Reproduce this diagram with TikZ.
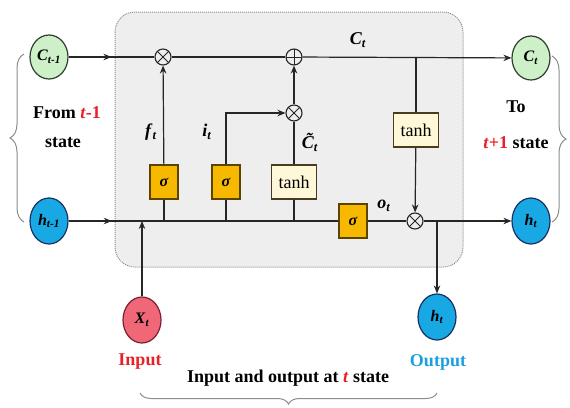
\documentclass[tikz,border=0pt]{standalone}
\usepackage{fontspec}
\setmainfont{Liberation Serif}
\usetikzlibrary{decorations.pathreplacing,decorations.markings,arrows.meta,shapes.geometric,calc}
\definecolor{cgreen}{HTML}{CDF0C8}
\definecolor{cborder}{HTML}{2E3E2E}
\definecolor{hblue}{HTML}{18A8E4}
\definecolor{hborder}{HTML}{1A3060}
\definecolor{xpink}{HTML}{F06878}
\definecolor{xborder}{HTML}{7A2030}
\definecolor{sigfill}{HTML}{F7B800}
\definecolor{sigborder}{HTML}{5A4400}
\definecolor{tanhfill}{HTML}{FFF8D8}
\definecolor{tanhborder}{HTML}{4A3A20}
\definecolor{boxgray}{HTML}{EEEEEE}
\definecolor{tred}{HTML}{E82028}
\definecolor{tblue}{HTML}{1A9FDF}
\newcommand{\lbl}[2]{\textbf{\textit{#1}}\textsubscript{\textbf{\textit{#2}}}}
\newcommand{\tildeC}{\textbf{\textit{\accent"02DC C}}}
\begin{document}
\begin{tikzpicture}[x=1pt,y=-1pt,
  font=\fontsize{18}{21}\selectfont\bfseries,
  >={Stealth[length=8pt,width=6.5pt]},
  line/.style={draw=black!85, line width=1.2pt},
  midarrow/.style={postaction={decorate},decoration={markings,mark=at position #1 with {\arrow{>}}}},
  cstate/.style={ellipse, draw=cborder, fill=cgreen, line width=1.2pt, minimum width=38pt, minimum height=44pt, inner sep=0pt, font=\fontsize{16}{18}\selectfont},
  hstate/.style={ellipse, draw=hborder, fill=hblue, line width=1.2pt, minimum width=38pt, minimum height=46pt, inner sep=0pt, font=\fontsize{16}{18}\selectfont},
  xstate/.style={ellipse, draw=xborder, fill=xpink, line width=1.2pt, minimum width=38pt, minimum height=46pt, inner sep=0pt, font=\fontsize{16}{18}\selectfont},
  sigbox/.style={rectangle, draw=sigborder, fill=sigfill, line width=1.2pt, minimum width=28pt, minimum height=34pt, inner sep=0pt, font=\fontsize{16}{18}\selectfont\bfseries\itshape},
  tanhbox/.style={rectangle, draw=tanhborder, fill=tanhfill, line width=1.2pt, minimum width=45pt, minimum height=34pt, inner sep=0pt, font=\fontsize{18}{20}\selectfont\mdseries},
  mult/.style={circle, draw=black!85, fill=boxgray, line width=1.1pt, minimum size=16pt, inner sep=0pt,
    path picture={\draw[line width=1pt] (path picture bounding box.center) +(45:8pt) -- +(225:8pt) +(135:8pt) -- +(-45:8pt);}},
  addop/.style={circle, draw=black!85, fill=boxgray, line width=1.1pt, minimum size=16pt, inner sep=0pt,
    path picture={\draw[line width=1pt] (path picture bounding box.center) +(0:8pt) -- +(180:8pt) +(90:8pt) -- +(-90:8pt);}},
  bracestyle/.style={draw=black!45, line width=1pt, decorate},
]
\useasboundingbox (0,0) rectangle (570,407);
% main cell box
\path[rounded corners=20pt, fill=boxgray, draw=black!45, line width=1pt, dash pattern=on 1pt off 1pt] (115,12) rectangle (463,267);

% state nodes
\node[cstate] (cprev) at (49,57) {\lbl{C}{t-1}};
\node[cstate] (cnext) at (531,58) {\lbl{C}{t}};
\node[hstate] (hprev) at (49,221) {\lbl{h}{t-1}};
\node[hstate] (hnext) at (531,221) {\lbl{h}{t}};
\node[xstate] (xt) at (142,320) {\lbl{X}{t}};
\node[hstate] (hout) at (437,317) {\lbl{h}{t}};

% operators
\node[mult] (m1) at (163,57) {};
\node[addop] (pl) at (294,57) {};
\node[mult] (m2) at (294,113) {};
\node[mult] (m3) at (415,221) {};

% gates
\node[sigbox] (s1) at (164,182) {σ};
\node[sigbox] (s2) at (226,182) {σ};
\node[tanhbox] (t1) at (294,182) {tanh};
\node[tanhbox] (t2) at (416,130) {tanh};
\node[sigbox] (s3) at (353,221) {σ};

% cell state line
\draw[line, midarrow=0.5] (cprev) -- (m1);
\draw[line] (m1) -- (pl);
\draw[line, ->] (pl) -- (cnext);
\draw[line] (t2 |- pl) -- (t2);
\draw[line, ->] (t2) -- (m3);

% gates to operators
\draw[line, ->] (s1) -- (m1);
\draw[line, ->] (s2) |- (m2);
\draw[line] (t1) -- (m2);
\draw[line, ->] (m2) -- (pl);

% hidden line
\draw[line, midarrow=0.16] (hprev) -- (s3);
\draw[line] (s3) -- (m3);
\draw[line, ->] (m3) -- (hnext);
\draw[line] (s1) -- (s1 |- hprev);
\draw[line] (s2) -- (s2 |- hprev);
\draw[line] (t1) -- (t1 |- hprev);
\draw[line, ->] (xt) -- (xt |- hprev);
\draw[line, ->] (hout |- m3) -- (hout);

% labels
\node (lf) at (151,132) {\lbl{f}{t}};
\node (li) at (207,132) {\lbl{i}{t}};
\node (lct) at (310,142) {\tildeC\textsubscript{\textbf{\textit{t}}}};
\node (lc) at (358,40) {\lbl{C}{t}};
\node (lo) at (384,206) {\lbl{o}{t}};

% texts
\node (from) at (67,113) {From \textcolor{tred}{\textit{t}-1}};
\node (st1) at (63,143) {state};
\node (to) at (516,107) {To};
\node (st2) at (516,143) {\textcolor{tred}{\textit{t}+1} state};
\node[text=tred] (inp) at (140,362) {Input};
\node[text=tblue] (outp) at (438,362) {Output};
\node (io) at (288,378) {Input and output at \textcolor{tred}{\textit{t}} state};

% braces
\draw[bracestyle, decoration={brace, amplitude=14pt}] (24,222) -- (24,54);
\draw[bracestyle, decoration={brace, amplitude=14pt}] (552,56) -- (552,222);
\draw[bracestyle, decoration={brace, amplitude=11pt}] (437,393) -- (140,393);
\end{tikzpicture}
\end{document}
